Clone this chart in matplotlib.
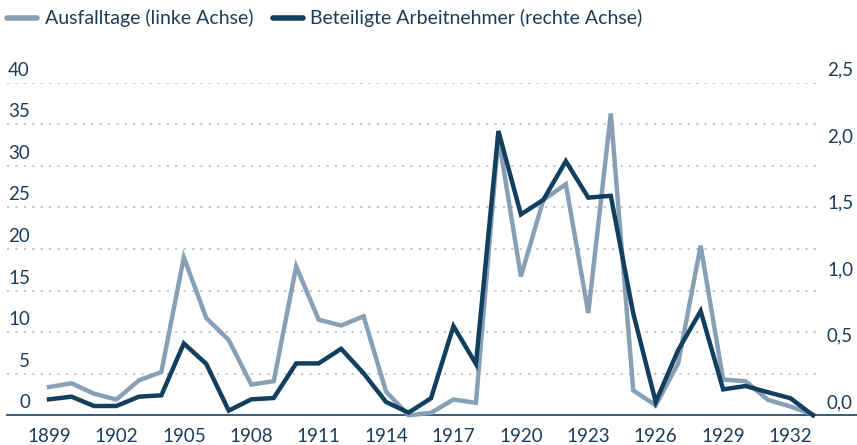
import matplotlib
matplotlib.use("Agg")
import matplotlib.pyplot as plt
from matplotlib.transforms import ScaledTranslation
from matplotlib.lines import Line2D

years = list(range(1899, 1934))
ausfalltage = [3.4, 3.85, 2.6, 1.9, 4.2, 5.2, 19.0, 11.7, 9.05, 3.7, 4.1, 17.9,
               11.5, 10.8, 11.9, 2.85, 0.0, 0.3, 1.9, 1.5, 33.5, 16.7, 25.9, 27.8,
               12.3, 36.3, 3.0, 1.2, 6.25, 20.4, 4.3, 4.1, 1.85, 1.05, 0.1]
arbeitnehmer = [0.12, 0.14, 0.07, 0.07, 0.14, 0.15, 0.54, 0.386, 0.035, 0.12, 0.13, 0.39,
                0.39, 0.50, 0.316, 0.10, 0.02, 0.128, 0.67, 0.386, 2.137, 1.51, 1.62, 1.91,
                1.636, 1.65, 0.767, 0.10, 0.49, 0.784, 0.195, 0.22, 0.173, 0.128, 0.0]
left_ticks = [0, 5, 10, 15, 20, 25, 30, 35, 40]
right_ticks = [0.0, 0.5, 1.0, 1.5, 2.0, 2.5]
right_labels = ["0,0", "0,5", "1,0", "1,5", "2,0", "2,5"]
x_ticks = list(range(1899, 1933, 3))
legend_labels = ["Ausfalltage (linke Achse)", "Beteiligte Arbeitnehmer (rechte Achse)"]

LIGHT = "#87a0b6"
DARK = "#123f60"
TEXT = "#1d3c5a"
GRID = "#a9bccd"

plt.rcParams['font.family'] = ['Lato', 'DejaVu Sans']

W, H = 857, 445
fig = plt.figure(figsize=(W / 100, H / 100), dpi=100)
ax_l, ax_r, ax_t, ax_b = 7, 817, 82.7, 415.3
ax = fig.add_axes([ax_l / W, (H - ax_b) / H, (ax_r - ax_l) / W, (ax_b - ax_t) / H])
ax2 = ax.twinx()

px_per_year = (813 - 49) / 34
ax.set_xlim(1899 - (49 - ax_l) / px_per_year, 1899 + (ax_r - 49) / px_per_year)
ax.set_ylim(0, 40)
ax2.set_ylim(0, 2.5)

for a in (ax, ax2):
    for s in a.spines.values():
        s.set_visible(False)

for t in left_ticks[1:]:
    ax.axhline(t, color=GRID, lw=1.1, ls=(0, (1.5, 4)), zorder=0)
ax.axhline(0, xmin=0, xmax=(W - ax_l) / (ax_r - ax_l), color=DARK, lw=1.2,
           clip_on=False, zorder=1)

ax.plot(years, ausfalltage, color=LIGHT, lw=3.2, solid_joinstyle='miter', zorder=2, clip_on=False)
ax2.plot(years, arbeitnehmer, color=DARK, lw=3.2, solid_joinstyle='miter', zorder=3, clip_on=False)

fs = 13.5
ax.set_yticks(left_ticks)
ax.set_yticklabels([str(t) for t in left_ticks])
ax.tick_params(axis='y', length=0, pad=-(30 - ax_l) / 100 * 72, labelsize=fs, labelcolor=TEXT)
ax2.set_yticks(right_ticks)
ax2.set_yticklabels(right_labels)
ax2.tick_params(axis='y', length=0, pad=(827 - ax_r) / 100 * 72, labelsize=fs, labelcolor=TEXT)
ax.set_xticks(x_ticks)
ax.set_xticklabels([str(t) for t in x_ticks])
ax.tick_params(axis='x', length=0, pad=9.5, labelsize=fs, labelcolor=TEXT)

off = ScaledTranslation(0, 14 / 100, fig.dpi_scale_trans)
for lab in ax.get_yticklabels() + ax2.get_yticklabels():
    lab.set_transform(lab.get_transform() + off)

# Legend (manual, pixel-placed)
ly = 1 - 18 / H
for (x0, x1), c in (((7, 37), LIGHT), ((273, 303), DARK)):
    fig.add_artist(Line2D([x0 / W, x1 / W], [ly, ly], transform=fig.transFigure,
                          color=c, lw=4, solid_capstyle='round'))
t1 = fig.text(45 / W, ly, legend_labels[0], va='center', ha='left', fontsize=fs, color=TEXT)
t2 = fig.text(310 / W, ly, legend_labels[1], va='center', ha='left', fontsize=fs, color=TEXT)
r = fig.canvas.get_renderer()
w1 = t1.get_window_extent(r).width
lfs = max(12.5, min(14.0, fs * 213 / w1))
t1.set_fontsize(lfs)
t2.set_fontsize(lfs)

fig.savefig("out.png", dpi=100)
